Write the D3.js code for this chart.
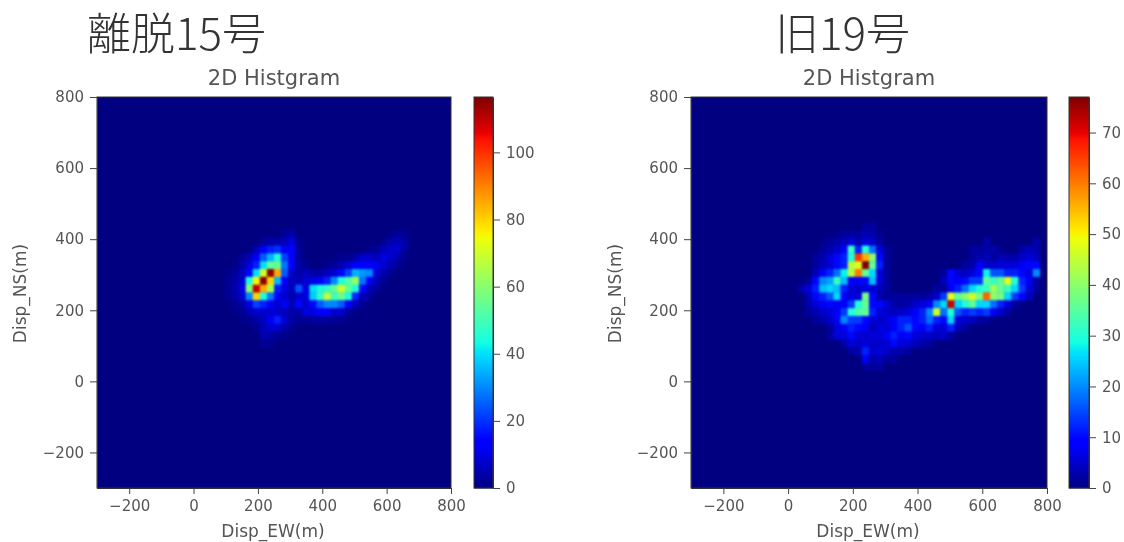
<!DOCTYPE html>
<html>
<head>
<meta charset="utf-8">
<script src="https://cdn.jsdelivr.net/npm/d3@7"></script>
<style>
  body { margin: 0; background: #fff; }
  svg { display: block; filter: blur(0.6px); }
  text { font-family: "DejaVu Sans", sans-serif; fill: #555; }
  .big { font-family: "Noto Sans CJK JP", sans-serif; font-weight: 300; font-size: 44px; fill: #333; }
  .cells { filter: blur(1.1px); }
</style>
</head>
<body>
<div id="chart-area"></div>
<script>
var bigTitles = ["離脱15号", "旧19号"];
var panelTitle = "2D Histgram";
var xLabel = "Disp_EW(m)";
var yLabel = "Disp_NS(m)";
var binCount = 50;
var xTicks = [-200, 0, 200, 400, 600, 800];
var yTicks = [-200, 0, 200, 400, 600, 800];

var leftMax = 116.5;
var leftBarTicks = [0, 20, 40, 60, 80, 100];
// y bin of each row, first x bin of the rows, then counts from that x bin on
var leftRowBins = [32, 31, 30, 29, 28, 27, 26, 25, 24, 23, 22, 21, 20, 19, 18];
var leftFirstBin = 17;
var leftCounts = [
  [0,0,0, 0,0,0,0,0, 0,3,4,0,0, 0,0,0,0,0, 0,0,0,0,0, 0,1,3,2],
  [0,0,0, 0,0,0,3,4, 5,6,10,2,0, 0,0,0,0,0, 0,0,0,0,0, 2,5,6,4],
  [0,0,0, 0,0,6,12,18, 20,12,14,3,0, 0,0,0,0,0, 0,0,0,2,3, 6,8,8,3],
  [0,0,0, 2,6,12,25,35, 45,22,14,3,0, 0,0,0,0,2, 2,4,8,8,6, 10,8,5,1],
  [0,0,1, 4,10,18,40,55, 55,28,12,4,2, 0,0,2,3,5, 8,14,14,12,12, 8,5,2,0],
  [0,1,3, 6,15,40,70,115, 85,25,8,4,6, 4,4,6,8,15, 22,35,32,30,8, 5,2,0,0],
  [0,2,4, 8,45,75,115,80, 35,12,6,6,8, 10,12,18,30,45, 52,62,28,12,6, 2,0,0,0],
  [0,2,5, 10,60,110,85,65, 18,10,6,24,10, 40,45,48,55,70, 55,45,15,6,3, 0,0,0,0],
  [0,2,4, 8,30,80,45,28, 12,8,5,8,10, 38,48,68,50,55, 45,18,6,3,0, 0,0,0,0],
  [0,0,2, 4,10,22,18,12, 8,12,6,15,8, 15,25,30,30,25, 12,6,2,0,0, 0,0,0,0],
  [0,0,1, 2,5,8,8,8, 8,6,4,4,10, 10,14,12,8,8, 3,1,0,0,0, 0,0,0,0],
  [0,0,0, 1,2,4,6,12, 18,8,4,2,2, 3,3,3,2,2, 0,0,0,0,0, 0,0,0,0],
  [0,0,0, 0,0,2,6,8, 8,4,2,0,0],
  [0,0,0, 0,0,0,5,4, 2,1],
  [0,0,0, 0,0,0,2,2]
];

var rightMax = 77;
var rightBarTicks = [0, 10, 20, 30, 40, 50, 60, 70];
var rightRowBins = [33, 32, 31, 30, 29, 28, 27, 26, 25, 24, 23, 22, 21, 20, 19, 18, 17, 16, 15];
var rightFirstBin = 15;
var rightCounts = [
  [0,0,0,0,0, 0,0,0,0,2, 2],
  [0,0,0,0,0, 1,2,2,2,3, 3,1],
  [0,0,0,1,2, 3,4,6,3,6, 5,2,0,0,0, 0,0,0,0,0, 0,0,0,0,0, 0,3,0,0,0, 0,0,0,3],
  [0,0,0,2,3, 5,8,32,12,30, 18,6,2,0,0, 0,0,0,0,0, 0,0,0,0,2, 2,2,3,1,0, 0,3,4,3],
  [0,0,2,3,6, 10,12,30,66,56, 40,10,2,0,0, 0,0,0,0,0, 0,0,0,0,2, 3,4,2,4,3, 3,5,6,4],
  [0,0,2,4,6, 10,12,44,48,77, 36,12,2,0,0, 0,0,0,0,0, 0,0,0,2,3, 8,5,5,6,6, 6,8,10,10],
  [0,0,4,8,12, 18,28,44,60,36, 26,6,2,0,0, 0,0,0,0,0, 2,10,6,4,6, 10,28,16,16,12, 12,10,6,20],
  [0,2,10,20,22, 32,24,8,8,10, 24,6,2,0,0, 0,0,0,0,0, 4,10,8,10,14, 14,36,32,36,48, 30,12,8,2],
  [3,6,12,24,26, 24,12,6,5,6, 6,4,2,0,0, 0,0,0,0,2, 2,8,12,18,26, 30,32,42,36,32, 26,14,6,2],
  [0,4,10,12,16, 26,10,6,6,38, 10,3,2,2,2, 2,2,2,3,5, 14,48,36,40,46, 38,62,40,38,26, 14,10,4,0],
  [0,3,6,8,10, 8,8,14,30,36, 10,10,6,3,2, 3,5,6,8,20, 26,72,26,30,36, 26,26,18,12,6, 2,0,0,0],
  [0,2,3,5,6, 8,14,30,34,36, 12,6,5,4,5, 6,8,12,20,46, 18,30,16,12,14, 12,14,8,5,2],
  [0,0,2,3,5, 8,20,14,14,10, 6,5,6,8,12, 12,10,12,18,12, 10,26,6,5,4, 2,2],
  [0,0,0,0,2, 6,8,12,10,8, 4,6,6,8,12, 16,10,8,12,6, 6,12,4,2],
  [0,0,0,0,2, 6,6,10,6,5, 6,6,8,12,8, 10,6,5,5,4, 5,2],
  [0,0,0,0,0, 0,3,6,5,6, 5,5,6,10,6, 6,4,3,2],
  [0,0,0,0,0, 0,0,2,3,12, 5,6,5,3,3, 2],
  [0,0,0,0,0, 0,0,0,0,8, 3,4,2,2],
  [0,0,0,0,0, 0,0,0,0,2, 2,2]
];

var panels = [
  { title: bigTitles[0], titleX: 87, left: 97, right: 451, barLeft: 474, barRight: 493, vmax: leftMax,
    barTicks: leftBarTicks, rowBins: leftRowBins, firstBin: leftFirstBin, counts: leftCounts, yLabelX: 26 },
  { title: bigTitles[1], titleX: 775, left: 691, right: 1047, barLeft: 1069, barRight: 1089, vmax: rightMax,
    barTicks: rightBarTicks, rowBins: rightRowBins, firstBin: rightFirstBin, counts: rightCounts, yLabelX: 621 }
];

var plotTop = 97, plotBottom = 488;

// matplotlib jet
var jetR = d3.scaleLinear().domain([0, 0.35, 0.66, 0.89, 1]).range([0, 0, 1, 1, 0.5]);
var jetG = d3.scaleLinear().domain([0, 0.125, 0.375, 0.64, 0.91, 1]).range([0, 0, 1, 1, 0, 0]);
var jetB = d3.scaleLinear().domain([0, 0.11, 0.34, 0.65, 1]).range([0.5, 1, 1, 0, 0]);
function jet(t) {
    return d3.rgb(jetR(t) * 255, jetG(t) * 255, jetB(t) * 255).formatHex();
}

var svg = d3.select("#chart-area")
    .append("svg")
        .attr("width", 1124)
        .attr("height", 542);

panels.forEach(function(p) {
    var g = svg.append("g");

    var x = d3.scaleLinear().domain([-300, 800]).range([p.left, p.right]);
    var y = d3.scaleLinear().domain([-300, 800]).range([plotBottom, plotTop]);
    var bin = d3.scaleLinear().domain([0, binCount]).range([-300, 800]);
    var color = d3.scaleLinear().domain([0, p.vmax]).range([0, 1]).clamp(true);

    // Flatten the rows into one list of non empty cells
    var cells = [];
    p.rowBins.forEach(function(j, r) {
        p.counts[r].forEach(function(v, k) {
            if (v > 0) cells.push({ i: p.firstBin + k, j: j, v: v });
        });
    });

    // Big title
    g.append("text")
        .attr("class", "big")
        .attr("x", p.titleX)
        .attr("y", 50)
        .text(p.title);

    // Heatmap background and cells
    g.append("rect")
        .attr("x", x(-300))
        .attr("y", y(800))
        .attr("width", x(800) - x(-300))
        .attr("height", y(-300) - y(800))
        .attr("fill", jet(0));

    g.append("g")
        .attr("class", "cells")
        .selectAll("rect")
        .data(cells)
        .enter()
        .append("rect")
        .attr("x", function(d) { return x(bin(d.i)); })
        .attr("y", function(d) { return y(bin(d.j + 1)); })
        .attr("width", x(bin(1)) - x(bin(0)) + 0.3)
        .attr("height", y(bin(0)) - y(bin(1)) + 0.3)
        .attr("fill", function(d) { return jet(color(d.v)); });

    // X axis
    g.append("g")
        .attr("transform", "translate(0," + plotBottom + ")")
        .call(d3.axisBottom(x).tickValues(xTicks).tickSize(6).tickSizeOuter(0).tickPadding(6));

    // Y axis
    g.append("g")
        .attr("transform", "translate(" + p.left + ",0)")
        .call(d3.axisLeft(y).tickValues(yTicks).tickSize(7).tickSizeOuter(0).tickPadding(6));

    // Frame
    g.append("rect")
        .attr("x", x(-300))
        .attr("y", y(800))
        .attr("width", x(800) - x(-300))
        .attr("height", y(-300) - y(800))
        .attr("fill", "none")
        .attr("stroke", "#333");

    // Panel title and axis labels
    g.append("text")
        .attr("x", (p.left + p.right) / 2)
        .attr("y", 85)
        .attr("text-anchor", "middle")
        .attr("font-size", "21px")
        .text(panelTitle);

    g.append("text")
        .attr("x", (p.left + p.right) / 2 - 1)
        .attr("y", 537)
        .attr("text-anchor", "middle")
        .attr("font-size", "17px")
        .text(xLabel);

    g.append("text")
        .attr("transform", "translate(" + p.yLabelX + "," + ((plotTop + plotBottom) / 2 + 1) + ") rotate(-90)")
        .attr("text-anchor", "middle")
        .attr("font-size", "17px")
        .text(yLabel);

    // Colorbar
    var barY = d3.scaleLinear().domain([0, p.vmax]).range([plotBottom, plotTop]);
    g.selectAll("rect.band")
        .data(d3.range(0, 391))
        .enter()
        .append("rect")
        .attr("class", "band")
        .attr("x", p.barLeft)
        .attr("y", function(d) { return plotTop + d; })
        .attr("width", p.barRight - p.barLeft)
        .attr("height", 1.5)
        .attr("fill", function(d) { return jet(1 - d / 391); });

    g.append("rect")
        .attr("x", p.barLeft)
        .attr("y", plotTop)
        .attr("width", p.barRight - p.barLeft)
        .attr("height", plotBottom - plotTop)
        .attr("fill", "none")
        .attr("stroke", "#333");

    g.append("g")
        .attr("transform", "translate(" + p.barRight + ",0)")
        .call(d3.axisRight(barY).tickValues(p.barTicks).tickSize(7).tickSizeOuter(0).tickPadding(6));

    g.selectAll(".domain").attr("stroke", "#333");
    g.selectAll(".tick line").attr("stroke", "#444");
    g.selectAll(".tick text")
        .attr("font-size", "15px")
        .style("font-family", "'DejaVu Sans', sans-serif");
});
</script>
</body>
</html>
